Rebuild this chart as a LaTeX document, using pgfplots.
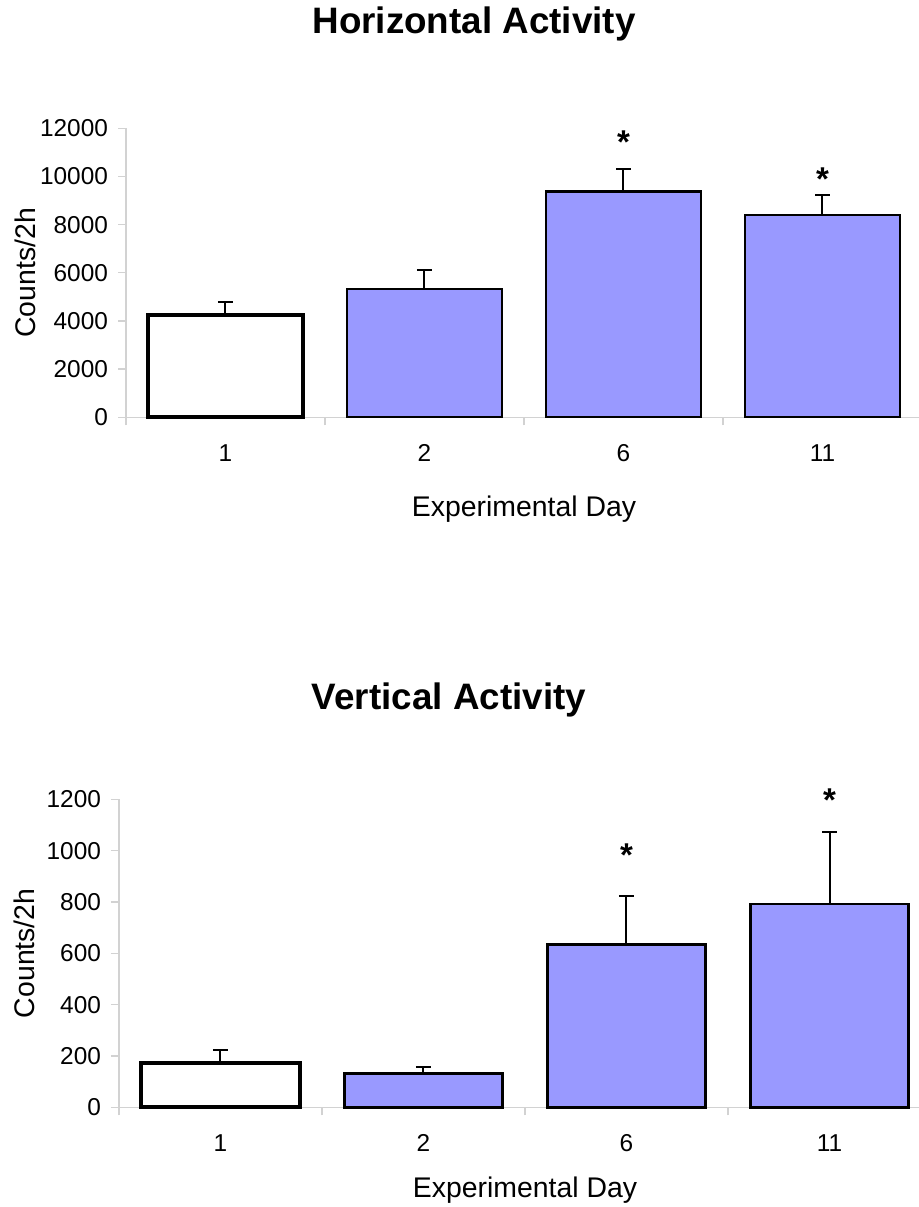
\documentclass[border=0pt]{standalone}
\usepackage{fontspec}
\setmainfont{Liberation Sans}
\usepackage{pgfplots}
\pgfplotsset{compat=1.18}
\definecolor{barblue}{RGB}{153,153,255}
\definecolor{axgray}{RGB}{210,210,210}

\pgfplotsset{
  actstyle/.style={
    scale only axis,
    axis x line=bottom, axis y line=left,
    axis line style={axgray, line width=0.7pt, -},
    xmin=-0.5, xmax=3.5, ymin=0,
    xtick={0,1,2,3}, xticklabels={1,2,6,11},
    minor xtick={-0.5,0.5,1.5,2.5,3.5},
    tick align=outside,
    major tick length=4pt, minor tick length=4pt,
    major x tick style={draw=none},
    minor x tick style={axgray, line width=0.7pt},
    y tick style={axgray, line width=0.7pt},
    tick label style={font=\fontsize{12.2}{13}\selectfont},
    scaled y ticks=false,
    /pgf/number format/assume math mode=true,
    /pgf/number format/1000 sep={},
    xticklabel style={anchor=base, yshift=-18pt},
    yticklabel style={xshift=-1.5pt},
    xlabel={Experimental Day},
    ylabel={Counts/2h},
    label style={font=\fontsize{14.2}{15}\selectfont},
    clip=false,
  },
  errstyle/.style={
    error bars/.cd, y dir=plus, y explicit,
    error bar style={line width=1pt, black},
    error mark options={rotate=90, line width=1pt, mark size=3.75pt, black},
  },
  starstyle/.style={
    draw=none, mark=none, nodes near coords, point meta=explicit symbolic,
    every node near coord/.append style={anchor=base, inner sep=0pt,
      font=\fontsize{16.5}{17}\selectfont\bfseries},
  },
}

\begin{document}
\begin{tikzpicture}
\path[use as bounding box] (0,0) rectangle (459.5pt,603.5pt);

\node[anchor=base, font=\fontsize{18.4}{19}\selectfont\bfseries] at (237pt,586.5pt) {Horizontal Activity};
\node[anchor=base, font=\fontsize{18.4}{19}\selectfont\bfseries] at (224.5pt,248.5pt) {Vertical Activity};

% Top chart
\begin{axis}[actstyle,
  at={(63pt,394.85pt)}, anchor=south west,
  width=398pt, height=144.5pt,
  ymax=12000, ytick={0,2000,4000,6000,8000,10000,12000},
  ylabel style={at={(axis description cs:-0.127,0.5)}, anchor=center},
  xlabel style={at={(axis description cs:0.5,0)}, anchor=base, yshift=-49.7pt},
]
\addplot[ybar, bar width=0.78, bar shift=0pt, fill=white, draw=black, line width=2pt, errstyle]
  coordinates {(0,4250) +- (0,550)};
\addplot[ybar, bar width=0.78, bar shift=0pt, fill=barblue, draw=black, line width=1.2pt, errstyle]
  coordinates {(1,5320) +- (0,790) (2,9380) +- (0,950) (3,8400) +- (0,840)};
\addplot[starstyle] coordinates {(2,10950)[*] (3,9419)[*]};
\end{axis}

% Bottom chart
\begin{axis}[actstyle,
  at={(59.5pt,49.85pt)}, anchor=south west,
  width=406pt, height=154pt,
  ymax=1200, ytick={0,200,400,600,800,1000,1200},
  ylabel style={at={(axis description cs:-0.117,0.5)}, anchor=center},
  xlabel style={at={(axis description cs:0.5,0)}, anchor=base, yshift=-45pt},
]
\addplot[ybar, bar width=0.78, bar shift=0pt, fill=white, draw=black, line width=2pt, errstyle]
  coordinates {(0,174) +- (0,49)};
\addplot[ybar, bar width=0.78, bar shift=0pt, fill=barblue, draw=black, line width=1.2pt, errstyle]
  coordinates {(1,132) +- (0,26) (2,635) +- (0,188) (3,791) +- (0,280)};
\addplot[starstyle] coordinates {(2,940)[*] (3,1153)[*]};
\end{axis}
\end{tikzpicture}
\end{document}
